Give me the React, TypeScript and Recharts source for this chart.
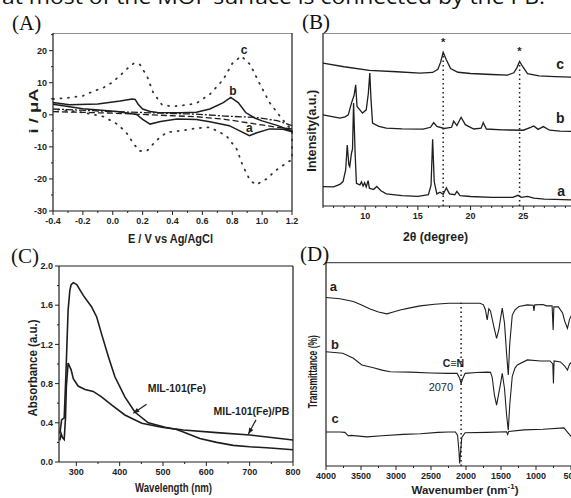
import { LineChart, Line, XAxis, YAxis, ReferenceLine, ReferenceDot, Label } from 'recharts'

const INK = '#1e1e1e'
const SANS = '"Liberation Sans", Arial, sans-serif'
const SERIF = '"Liberation Serif", "Times New Roman", serif'

// (A) cyclic voltammograms, E in V vs Ag/AgCl, i in µA (forward scan, then reverse)
const cvC_E = [-0.4, -0.3, -0.2, -0.12, -0.06, 0.0, 0.05, 0.1, 0.14, 0.18, 0.23, 0.27, 0.33, 0.4, 0.5, 0.56, 0.65, 0.74, 0.8, 0.86, 0.92, 0.98, 1.05, 1.12, 1.17, 1.2,
  1.2, 1.17, 1.09, 1.03, 0.96, 0.92, 0.87, 0.83, 0.76, 0.65, 0.56, 0.45, 0.36, 0.29, 0.23, 0.18, 0.14, 0.09, 0.03, -0.06, -0.2, -0.3, -0.4]
const cvC_I = [4.9, 5.3, 5.9, 7.5, 8.5, 10.2, 12.3, 14.5, 16, 15.8, 12, 7, 3.1, 2.6, 3.1, 3.6, 6.4, 11, 16, 18.3, 15.7, 10, 3.8, -0.5, -3.4, -4.5,
  -14, -14.8, -17.4, -20, -21.8, -20.5, -15.8, -10.7, -6.5, -3.9, -4.2, -5, -5.5, -8.1, -11.2, -11.3, -9.1, -5.5, -2.9, -0.6, 0.7, 1.3, 1.8]
const cvB_E = [-0.4, -0.29, -0.1, 0.05, 0.13, 0.15, 0.17, 0.2, 0.25, 0.3, 0.45, 0.56, 0.65, 0.74, 0.79, 0.84, 0.89, 0.95, 1.0, 1.1, 1.2,
  1.2, 1.14, 1.05, 0.96, 0.915, 0.85, 0.78, 0.65, 0.56, 0.43, 0.32, 0.25, 0.2, 0.16, 0.03, -0.2, -0.4]
const cvB_I = [3.8, 3.1, 3.4, 4.3, 4.9, 4.8, 3.3, 1.8, 1.0, 0.7, 0.6, 0.8, 1.8, 3.8, 5.4, 3.8, 0.7, -1, -1.9, -3.3, -5,
  -5.3, -4.5, -4.4, -5.7, -6.5, -5, -3.4, -2.2, -1.5, -1.3, -2.1, -2.9, -1.4, 0.1, 1, 1.9, 3.3]
const cvA_fwdE = [-0.4, 0.0, 0.4, 0.56, 0.75, 0.95, 1.1, 1.2]
const cvA_fwdI = [1.8, 1.0, 0.4, 0.2, -0.4, -0.8, -1.8, -3.4]
const cvA_revE = [1.2, 1.1, 0.96, 0.75, 0.56, 0.4, 0.0, -0.4]
const cvA_revI = [-4.4, -3.9, -2.9, -1.4, -0.6, -0.3, 0.5, 1.0]
const cvXTicks = [-0.4, -0.2, 0.0, 0.2, 0.4, 0.6, 0.8, 1.0, 1.2]
const cvYTicks = [-30, -20, -10, 0, 10, 20]

// (B) XRD, 2θ in degrees, intensity in arbitrary units (curves offset)
const xrdC_T = [6, 8, 10.4, 13, 15.2, 16.4, 16.9, 17.15, 17.4, 17.7, 18.1, 18.8, 20, 22, 23.5, 24.1, 24.4, 24.65, 24.95, 25.4, 26.5, 28, 30]
const xrdC_I = [82.6, 80.5, 78.4, 77.6, 76.8, 77.2, 79, 83, 88.8, 84.5, 79.5, 77.3, 76.6, 76, 75.7, 77, 80, 83.6, 80.5, 76.5, 75.2, 74.8, 74.4]
const xrdB_T = [6, 7, 7.6, 8.1, 8.4, 8.7, 8.95, 9.1, 9.23, 9.5, 9.75, 10.1, 10.3, 10.44, 10.55, 10.7, 11.3, 12, 13.5, 15.5, 16.2, 16.5, 16.8, 17.5,
  18.2, 18.4, 18.7, 19.1, 19.5, 20.3, 21.0, 21.2, 21.5, 23, 25, 25.7, 26, 26.4, 26.9, 27.5, 28.5, 30]
const xrdB_I = [52.7, 51.5, 50.8, 51.5, 52.7, 59.5, 64, 70, 57.5, 55.6, 53.7, 55.6, 65, 76.8, 62, 47.9, 46, 45, 44.6, 44.4, 45.5, 48.2, 46, 44.8,
  45.5, 49, 46.5, 51.3, 47, 44.5, 45, 48.2, 44.5, 44, 43.8, 45.5, 46.3, 44.3, 45.9, 43.8, 43.3, 43]
const xrdA_T = [6, 7, 7.6, 7.9, 8.15, 8.3, 8.45, 8.54, 8.7, 8.8, 8.9, 9.05, 9.17, 9.5, 9.65, 9.8, 9.95, 10.1, 10.28, 10.4, 10.8, 11.1, 11.5, 12,
  13.5, 15, 15.6, 16.0, 16.25, 16.4, 16.55, 16.8, 17.1, 17.4, 17.7, 18.0, 18.5, 18.7, 19.0, 20, 22, 24, 24.5, 24.8, 25.4, 26, 27, 28, 30]
const xrdA_I = [11.2, 11, 12.5, 14.1, 20.8, 35.3, 24, 22.8, 30.5, 33, 59.5, 30, 13.1, 12.2, 14, 11.5, 13.5, 11, 14.7, 10.3, 9.5, 11.3, 8.8, 7,
  6, 5.6, 6.2, 6.5, 12, 38.6, 14, 7, 8, 6.8, 10.5, 7, 6.5, 8.5, 6, 5.5, 5, 5, 6.2, 5, 5.6, 4.5, 4, 3.8, 3.5]
const xrdPeaks = [17.4, 24.65]
const xrdPeakTops = [88, 83]
const xrdTicks = [10, 15, 20, 25]

// (C) UV-vis, wavelength (nm) vs absorbance (a.u.)
const uvMil_W = [262, 266, 272, 276, 281, 285, 288, 293, 301, 316, 335, 347, 358, 374, 389, 412, 435, 466, 505, 530, 547, 585, 624, 662, 700, 739, 770, 800]
const uvMil_A = [0.29, 0.43, 0.45, 0.9, 1.55, 1.75, 1.81, 1.83, 1.81, 1.7, 1.585, 1.48, 1.31, 1.075, 0.87, 0.665, 0.51, 0.4, 0.355, 0.335, 0.305, 0.24, 0.2, 0.17, 0.155, 0.145, 0.135, 0.125]
const uvPb_W = [262, 265, 268, 272, 275, 277, 281, 285, 288, 293, 304, 320, 339, 358, 382, 412, 451, 497, 530, 547, 624, 701, 750, 800]
const uvPb_A = [0.22, 0.29, 0.25, 0.23, 0.45, 0.77, 1.01, 0.97, 0.94, 0.85, 0.775, 0.74, 0.72, 0.665, 0.58, 0.48, 0.395, 0.355, 0.335, 0.327, 0.3, 0.275, 0.25, 0.225]
const uvXTicks = [300, 400, 500, 600, 700, 800]
const uvYTicks = [0.0, 0.4, 0.8, 1.2, 1.6, 2.0]

// (D) FTIR, wavenumber vs transmittance (curves offset)
const irA_N = [4000, 3800, 3609, 3500, 3369, 3250, 3130, 3040, 2940, 2800, 2653, 2450, 2247, 2000, 1800, 1750, 1722, 1697, 1674, 1650, 1602, 1563, 1530, 1508,
  1482, 1450, 1420, 1396, 1375, 1339, 1300, 1244, 1124, 1040, 1029, 1018, 900, 850, 770, 755, 745, 680, 620, 590, 551, 520, 490]
const irA_T = [82.6, 82, 80.6, 79, 77, 75.5, 74.6, 75.5, 76.5, 77.5, 78.5, 79.3, 79.8, 79.8, 79.8, 79, 76.5, 71.6, 77, 76, 68.3, 62.6, 67, 72,
  77.4, 70, 55, 44.6, 60, 74, 76.5, 78.2, 79, 78.8, 76, 79, 79.2, 78.5, 78.5, 66.7, 78, 78, 75, 71, 67.5, 72, 74]
const irB_N = [4000, 3760, 3609, 3488, 3322, 3200, 3083, 2800, 2500, 2247, 2127, 2090, 2070, 2045, 2013, 1850, 1700, 1650, 1626, 1595, 1563, 1530, 1508,
  1482, 1450, 1420, 1396, 1375, 1339, 1300, 1267, 1124, 933, 800, 760, 751, 742, 650, 590, 551, 520, 490]
const irB_T = [56, 55.3, 52.8, 49.5, 48.2, 47, 46.2, 46, 45.6, 45.4, 45.4, 43, 40.5, 43, 45.4, 45.8, 46, 45.9, 43.5, 35, 29.8, 36, 40,
  45.4, 38, 25, 17.5, 30, 44, 48, 49.5, 52, 51.5, 51.5, 50, 40.5, 51.5, 51, 49, 47, 50, 51]
const irC_N = [4000, 3800, 3731, 3680, 3640, 3417, 3200, 2900, 2653, 2400, 2247, 2151, 2120, 2100, 2090, 2080, 2060, 2013, 1700, 1420, 1405, 1390, 1172, 900, 600, 560, 500]
const irC_T = [16.7, 16.7, 16.5, 14.8, 15, 14.3, 14.8, 15.5, 15.8, 16.5, 16.7, 16.7, 15, 7, 1.2, 6, 14, 16.3, 16.5, 16.8, 15.5, 16.9, 17.7, 18, 18.7, 17, 14.5]
const irCN = 2070
const irTicks = [4000, 3500, 3000, 2500, 2000, 1500, 1000, 500]

const pts = (xs: number[], ys: number[]) => xs.map((x, k) => ({ x, y: ys[k] }))
const steps = (from: number, to: number, step: number) => {
  const out: number[] = []
  for (let k = 0; from + k * step <= to + 1e-9; k++) out.push(+(from + k * step).toFixed(4))
  return out
}

const tickText = { fontFamily: SANS, fontWeight: 700, fontSize: 9, fill: INK }
const isMajor = (majors: number[], v: number) => majors.some(m => Math.abs(m - v) < 1e-6)

// tickSize 4 + tickMargin 2 => axis line sits 6px from the given tick anchor
const bottomTick = (majors: number[], fmt: (v: number) => string) => (p: any) => {
  const y0 = p.y - 6
  const major = isMajor(majors, p.payload.value)
  return (
    <g>
      <line x1={p.x} x2={p.x} y1={y0} y2={y0 + (major ? 4 : 2)} stroke={INK} strokeWidth={1} />
      {major && <text x={p.x} y={y0 + 13} textAnchor="middle" style={tickText}>{fmt(p.payload.value)}</text>}
    </g>
  )
}
const leftTick = (majors: number[], fmt: (v: number) => string) => (p: any) => {
  const x0 = p.x + 6
  const major = isMajor(majors, p.payload.value)
  return (
    <g>
      <line x1={x0 - (major ? 4 : 2)} x2={x0} y1={p.y} y2={p.y} stroke={INK} strokeWidth={1} />
      {major && <text x={x0 - 6} y={p.y} dy={3.2} textAnchor="end" style={tickText}>{fmt(p.payload.value)}</text>}
    </g>
  )
}

const title = (text: string, cx: number, cy: number, len: number, size: number, vertical = false) => () => (
  <text x={cx} y={cy} textAnchor="middle" dominantBaseline="central" textLength={len} lengthAdjust="spacingAndGlyphs"
    transform={vertical ? `rotate(-90 ${cx} ${cy})` : undefined}
    style={{ fontFamily: SANS, fontWeight: 700, fontSize: size, fill: INK }}>{text}</text>
)

const note = (x: number, y: number, text: string, size: number, bold = true) => (
  <ReferenceDot key={text + x} x={x} y={y} r={0} fill="none" stroke="none"
    label={{ value: text, position: 'center', fill: INK, fontSize: size, fontWeight: bold ? 700 : 400, fontFamily: SANS }} />
)

const arrowHead = (x: number, y: number, angle: number) => (
  <ReferenceDot key={'ah' + x} x={x} y={y} r={0}
    shape={(p: any) => <path d="M0,0 L-6,-2.4 L-6,2.4 Z" transform={`translate(${p.cx},${p.cy}) rotate(${angle})`} fill={INK} />} />
)

const axisLine = { stroke: INK, strokeWidth: 1.2 }

function PanelA() {
  return (
    <LineChart width={300} height={216} margin={{ top: 0, right: 8, bottom: 0, left: 0 }}>
      <XAxis type="number" dataKey="x" domain={[-0.4, 1.2]} ticks={steps(-0.4, 1.2, 0.1)} interval={0} height={38}
        axisLine={axisLine} tickLine={false} tickSize={4} tickMargin={2} tick={bottomTick(cvXTicks, v => v.toFixed(1))}>
        <Label content={title('E / V vs Ag/AgCl', 170.5, 205, 85, 13)} />
      </XAxis>
      <YAxis type="number" domain={[-30, 25.5]} ticks={steps(-30, 25, 5)} interval={0} width={53}
        axisLine={axisLine} tickLine={false} tickSize={4} tickMargin={2} tick={leftTick(cvYTicks, v => String(v))}>
        <Label content={title('i / μA', 33, 78, 45, 13, true)} />
      </YAxis>
      <ReferenceLine y={25.5} stroke={INK} strokeWidth={1.2} />
      <ReferenceLine x={1.2} stroke={INK} strokeWidth={1.2} />
      <Line data={pts(cvC_E, cvC_I)} dataKey="y" stroke="#333" strokeWidth={1.8} strokeDasharray="1 6.5" strokeLinecap="round" dot={false} isAnimationActive={false} />
      <Line data={pts(cvB_E, cvB_I)} dataKey="y" stroke={INK} strokeWidth={1.5} dot={false} isAnimationActive={false} />
      <Line data={pts(cvA_fwdE, cvA_fwdI)} dataKey="y" stroke={INK} strokeWidth={1.3} strokeDasharray="7 2 2 2" dot={false} isAnimationActive={false} />
      <Line data={pts(cvA_revE, cvA_revI)} dataKey="y" stroke={INK} strokeWidth={1.3} strokeDasharray="6 3" dot={false} isAnimationActive={false} />
      {note(0.88, 20.4, 'c', 12)}
      {note(0.805, 7.5, 'b', 12)}
      {note(0.915, -4.1, 'a', 12)}
    </LineChart>
  )
}

function PanelB() {
  return (
    <LineChart width={296} height={214} margin={{ top: 0, right: 0, bottom: 0, left: 0 }}>
      <XAxis type="number" dataKey="x" domain={[6, 30]} ticks={steps(6, 30, 1)} interval={0} height={41}
        axisLine={axisLine} tickLine={false} tickSize={4} tickMargin={2} tick={bottomTick(xrdTicks, v => String(v))}>
        <Label content={title('2θ (degree)', 155.5, 204, 65, 12)} />
      </XAxis>
      <YAxis type="number" domain={[0, 100]} width={43} axisLine={axisLine} tickLine={false} tick={false}>
        <Label content={title('Intensity(a.u.)', 32.3, 97.8, 82, 12, true)} />
      </YAxis>
      <ReferenceLine y={100} stroke={INK} strokeWidth={1.2} />
      {xrdPeaks.map((t, k) => (
        <ReferenceLine key={t} segment={[{ x: t, y: 0 }, { x: t, y: xrdPeakTops[k] }]} stroke={INK} strokeWidth={1.5} strokeDasharray="1.5 3" />
      ))}
      <Line data={pts(xrdC_T, xrdC_I)} dataKey="y" stroke={INK} strokeWidth={1.3} dot={false} isAnimationActive={false} />
      <Line data={pts(xrdB_T, xrdB_I)} dataKey="y" stroke={INK} strokeWidth={1.3} dot={false} isAnimationActive={false} />
      <Line data={pts(xrdA_T, xrdA_I)} dataKey="y" stroke={INK} strokeWidth={1.3} dot={false} isAnimationActive={false} />
      {note(17.4, 94.6, '*', 11)}
      {note(24.63, 89.3, '*', 11)}
      {note(28.5, 82, 'c', 14)}
      {note(28.5, 50.8, 'b', 14)}
      {note(28.6, 8.9, 'a', 14)}
    </LineChart>
  )
}

function PanelC() {
  return (
    <LineChart width={302} height={240} margin={{ top: 8, right: 9, bottom: 0, left: 0 }}>
      <XAxis type="number" dataKey="x" domain={[260, 800]} ticks={steps(300, 800, 50)} interval={0} height={36}
        axisLine={axisLine} tickLine={false} tickSize={4} tickMargin={2} tick={bottomTick(uvXTicks, v => String(v))}>
        <Label content={title('Wavelength (nm)', 173.5, 229, 77, 13)} />
      </XAxis>
      <YAxis type="number" domain={[0, 2]} ticks={steps(0, 2, 0.2)} interval={0} width={59}
        axisLine={axisLine} tickLine={false} tickSize={4} tickMargin={2} tick={leftTick(uvYTicks, v => v.toFixed(1))}>
        <Label content={title('Absorbance (a.u.)', 32.3, 110, 97, 13, true)} />
      </YAxis>
      <ReferenceLine y={2} stroke={INK} strokeWidth={1.2} />
      <ReferenceLine x={800} stroke={INK} strokeWidth={1.2} />
      <Line data={pts(uvMil_W, uvMil_A)} dataKey="y" stroke={INK} strokeWidth={1.6} dot={false} isAnimationActive={false} />
      <Line data={pts(uvPb_W, uvPb_A)} dataKey="y" stroke={INK} strokeWidth={1.6} dot={false} isAnimationActive={false} />
      <ReferenceLine segment={[{ x: 462, y: 0.59 }, { x: 431.5, y: 0.497 }]} stroke={INK} strokeWidth={1.2} />
      {arrowHead(431.5, 0.497, 145)}
      <ReferenceLine segment={[{ x: 714.6, y: 0.43 }, { x: 697, y: 0.286 }]} stroke={INK} strokeWidth={1.2} />
      {arrowHead(697, 0.286, 119)}
      {note(532, 0.755, 'MIL-101(Fe)', 10.5)}
      {note(704, 0.513, 'MIL-101(Fe)/PB', 10.5)}
    </LineChart>
  )
}

function PanelD() {
  return (
    <LineChart width={298} height={236} margin={{ top: 0, right: 0, bottom: 0, left: 0 }}>
      <XAxis type="number" dataKey="x" domain={[400, 4000]} reversed ticks={steps(500, 4000, 250)} interval={0} height={32}
        axisLine={axisLine} tickLine={false} tickSize={4} tickMargin={2} tick={bottomTick(irTicks, v => String(v))}>
        <Label content={() => (
          <text x={185} y={227.5} textAnchor="middle" dominantBaseline="central"
            style={{ fontFamily: SANS, fontWeight: 700, fontSize: 11.5, fill: INK }}>
            Wavenumber (nm<tspan dy={-4} fontSize={8}>-1</tspan><tspan dy={4}>)</tspan>
          </text>
        )} />
      </XAxis>
      <YAxis type="number" domain={[0, 100]} width={46} axisLine={axisLine} tickLine={false} tick={false}>
        <Label content={title('Transmittance (%)', 33.3, 109.7, 73, 12, true)} />
      </YAxis>
      <ReferenceLine y={100} stroke="#555" strokeWidth={2.5} />
      <ReferenceLine segment={[{ x: irCN, y: 0 }, { x: irCN, y: 80 }]} stroke={INK} strokeWidth={1.5} strokeDasharray="1.5 3" />
      <Line data={pts(irA_N, irA_T)} dataKey="y" stroke={INK} strokeWidth={1.1} dot={false} isAnimationActive={false} />
      <Line data={pts(irB_N, irB_T)} dataKey="y" stroke={INK} strokeWidth={1.1} dot={false} isAnimationActive={false} />
      <Line data={pts(irC_N, irC_T)} dataKey="y" stroke={INK} strokeWidth={1.1} dot={false} isAnimationActive={false} />
      {note(3895, 88, 'a', 13)}
      {note(3871, 59.7, 'b', 13)}
      {note(3871, 23.3, 'c', 13)}
      {note(2180, 50.6, 'C≡N', 10.5)}
      {note(2359, 38.5, '2070', 11, false)}
    </LineChart>
  )
}

export default function App() {
  const letter = { fontFamily: SERIF, fontSize: 21, fill: '#111' }
  return (
    <div style={{ position: 'fixed', left: 0, top: 0, width: 571, height: 498, overflow: 'hidden', background: '#fff' }}>
      <div style={{ position: 'absolute', left: 0, top: 33 }}><PanelA /></div>
      <div style={{ position: 'absolute', left: 280, top: 33 }}><PanelB /></div>
      <div style={{ position: 'absolute', left: 0, top: 258 }}><PanelC /></div>
      <div style={{ position: 'absolute', left: 280, top: 262 }}><PanelD /></div>
      <svg width={571} height={498} style={{ position: 'absolute', left: 0, top: 0, pointerEvents: 'none' }}>
        <text x={2} y={4} textLength={543} lengthAdjust="spacingAndGlyphs"
          style={{ fontFamily: '"Open Sans", sans-serif', fontSize: 20, fill: '#111' }}>
          at most of the MOF surface is connected by the PB.
        </text>
        <text x={12} y={30} style={letter}>(A)</text>
        <text x={302} y={29} style={letter}>(B)</text>
        <text x={11} y={263} style={letter}>(C)</text>
        <text x={300} y={261} style={letter}>(D)</text>
      </svg>
    </div>
  )
}
